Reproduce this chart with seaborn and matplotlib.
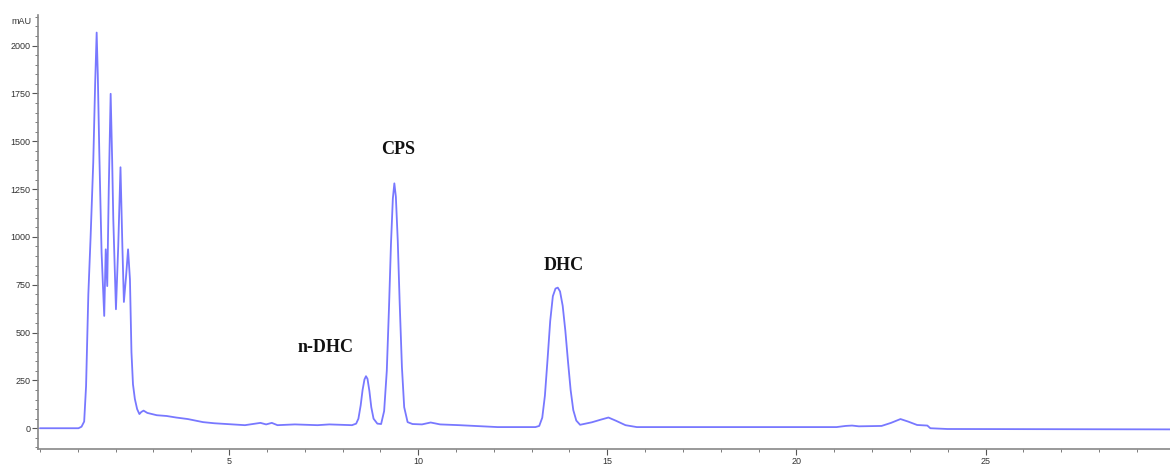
import matplotlib
matplotlib.use("Agg")
import matplotlib.pyplot as plt
from matplotlib.ticker import MultipleLocator
import seaborn as sns
import pandas as pd

# Retention time (min) and absorbance (mAU)
time_min = [
    0.00, 1.02, 1.10, 1.17, 1.22, 1.28, 1.34, 1.41, 1.46, 1.50, 1.53, 1.57,
    1.63, 1.70, 1.74, 1.78, 1.82, 1.87, 1.91, 1.94, 2.01, 2.07, 2.13, 2.18,
    2.22, 2.28, 2.33, 2.38, 2.42, 2.46, 2.51, 2.57, 2.63, 2.68, 2.74, 2.84,
    3.09, 3.35, 3.60, 3.91, 4.31, 4.61, 5.42, 5.83, 5.98, 6.13, 6.28, 6.74,
    7.34, 7.65, 8.25,
    8.36, 8.42, 8.48, 8.53, 8.58, 8.62, 8.66, 8.71, 8.76, 8.82, 8.92,
    9.02, 9.10, 9.17, 9.23, 9.28, 9.33, 9.37, 9.41, 9.46, 9.51, 9.57, 9.63,
    9.72, 9.85, 10.10, 10.33, 10.58, 11.09, 12.10, 13.10,
    13.20, 13.28, 13.35, 13.42, 13.49, 13.56, 13.63, 13.69, 13.75, 13.82,
    13.89, 13.96, 14.03, 14.10, 14.18, 14.28, 14.59, 14.83, 15.03, 15.23,
    15.48, 15.78,
    21.06, 21.30, 21.47, 21.65, 22.25, 22.50, 22.75, 22.95, 23.19, 23.46,
    23.54, 23.99, 29.95,
]
absorbance_mau = [
    0, 0, 8, 35, 220, 700, 1000, 1390, 1800, 2068, 1850, 1440,
    918, 587, 935, 743, 1250, 1748, 1400, 1091, 622, 950, 1364, 950,
    660, 800, 935, 778, 397, 230, 153, 100, 74, 85, 92, 80,
    68, 64, 56, 48, 32, 26, 16, 28, 20, 28, 16, 20,
    16, 20, 16,
    24, 50, 120, 200, 255, 272, 258, 195, 110, 50, 24,
    22, 90, 300, 640, 960, 1200, 1280, 1210, 980, 660, 320, 110,
    32, 22, 20, 30, 20, 16, 6, 6,
    12, 55, 170, 360, 560, 690, 730, 735, 715, 640,
    510, 350, 200, 95, 40, 18, 31, 45, 56, 39,
    16, 6,
    6, 12, 14, 10, 12, 28, 48, 35, 17, 14,
    0, -4, -6,
]

peak_names = ["n-DHC", "CPS", "DHC"]
peak_label_x = [7.55, 9.47, 13.84]
peak_label_y = [424, 1456, 851]

y_ticks = [0, 250, 500, 750, 1000, 1250, 1500, 1750, 2000]
x_ticks = [5, 10, 15, 20, 25, 30]

df = pd.DataFrame({"Time (min)": time_min, "mAU": absorbance_mau})

sns.set_style("ticks")
plt.rcParams["font.family"] = ["Liberation Sans", "DejaVu Sans"]

fig = plt.figure(figsize=(11.7, 4.68), dpi=100)
ax = fig.add_axes([0.0325, 0.040, 0.978, 0.928])

sns.lineplot(data=df, x="Time (min)", y="mAU", ax=ax, color="#7878ff",
             linewidth=1.3, sort=False)

ax.set_xlim(-0.05, 30.2)
ax.set_ylim(-110, 2160)
ax.set_xticks(x_ticks)
ax.set_yticks(y_ticks)
ax.xaxis.set_minor_locator(MultipleLocator(1))
ax.yaxis.set_minor_locator(MultipleLocator(50))
ax.tick_params(axis="both", which="major", length=4, width=0.8, color="#555555",
               labelsize=6.5, labelcolor="#333333", pad=1.5)
ax.tick_params(axis="both", which="minor", length=2, width=0.6, color="#666666")
ax.set_xlabel("")
ax.set_ylabel("")
for side in ["top", "right"]:
    ax.spines[side].set_visible(False)
for side in ["left", "bottom"]:
    ax.spines[side].set_color("#888888")
    ax.spines[side].set_linewidth(1.2)

ax.text(-0.006, 0.985, "mAU", transform=ax.transAxes, ha="right", va="center",
        fontsize=6.5, color="#333333")

for name, x, y in zip(peak_names, peak_label_x, peak_label_y):
    ax.text(x, y, name, ha="center", va="center", fontsize=13, fontweight="bold",
            family=["Liberation Serif", "DejaVu Serif"], color="#111111")

fig.savefig("out.png", dpi=100)
